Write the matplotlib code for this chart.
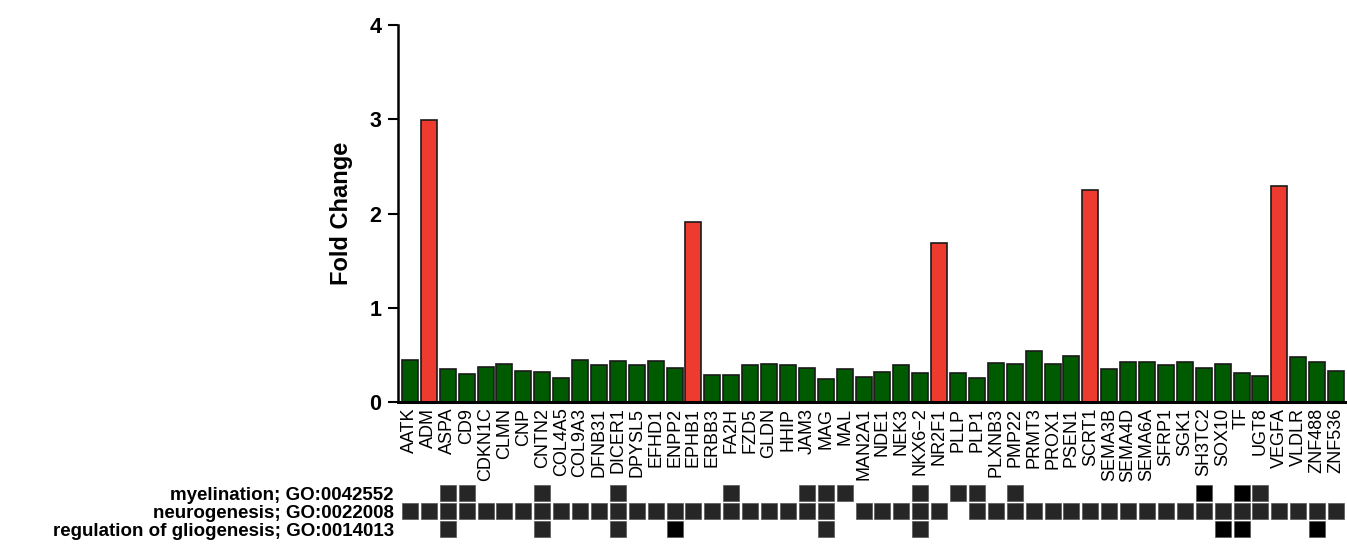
import numpy as np
import matplotlib
matplotlib.use("Agg")
import matplotlib.pyplot as plt

plt.rcParams["font.family"] = ["Liberation Sans", "DejaVu Sans"]

genes = ["AATK", "ADM", "ASPA", "CD9", "CDKN1C", "CLMN", "CNP", "CNTN2", "COL4A5",
         "COL9A3", "DFNB31", "DICER1", "DPYSL5", "EFHD1", "ENPP2", "EPHB1", "ERBB3",
         "FA2H", "FZD5", "GLDN", "HHIP", "JAM3", "MAG", "MAL", "MAN2A1", "NDE1", "NEK3",
         "NKX6\u22122", "NR2F1", "PLLP", "PLP1", "PLXNB3", "PMP22", "PRMT3", "PROX1",
         "PSEN1", "SCRT1", "SEMA3B", "SEMA4D", "SEMA6A", "SFRP1", "SGK1", "SH3TC2",
         "SOX10", "TF", "UGT8", "VEGFA", "VLDLR", "ZNF488", "ZNF536"]

fold_change = [0.45, 2.99, 0.35, 0.30, 0.37, 0.40, 0.33, 0.32, 0.25, 0.45,
               0.39, 0.43, 0.39, 0.43, 0.36, 1.91, 0.29, 0.29, 0.39, 0.40,
               0.39, 0.36, 0.24, 0.35, 0.27, 0.32, 0.39, 0.31, 1.69, 0.31,
               0.25, 0.41, 0.40, 0.54, 0.40, 0.49, 2.25, 0.35, 0.42, 0.42,
               0.39, 0.42, 0.36, 0.40, 0.31, 0.28, 2.29, 0.48, 0.42, 0.33]

highlight = ["ADM", "EPHB1", "NR2F1", "SCRT1", "VEGFA"]

go_terms = ["myelination; GO:0042552",
            "neurogenesis; GO:0022008",
            "regulation of gliogenesis; GO:0014013"]

myelination = ["ASPA", "CD9", "CNTN2", "DICER1", "FA2H", "JAM3", "MAG", "MAL",
               "NKX6\u22122", "PLLP", "PLP1", "PMP22", "SH3TC2", "TF", "UGT8"]
not_neurogenesis = ["MAL", "PLLP"]
gliogenesis = ["ASPA", "CNTN2", "DICER1", "ENPP2", "MAG", "NKX6\u22122", "SOX10", "TF", "ZNF488"]
# cells that are drawn in pure black in the original
black_cells = [("myelination; GO:0042552", "SH3TC2"), ("myelination; GO:0042552", "TF"),
               ("regulation of gliogenesis; GO:0014013", "ENPP2"),
               ("regulation of gliogenesis; GO:0014013", "SOX10"),
               ("regulation of gliogenesis; GO:0014013", "TF"),
               ("regulation of gliogenesis; GO:0014013", "ZNF488")]

members = {
    go_terms[0]: myelination,
    go_terms[1]: [g for g in genes if g not in not_neurogenesis],
    go_terms[2]: gliogenesis,
}

x = np.arange(len(genes))
colors = ["#ee3b2f" if g in highlight else "#005a00" for g in genes]

fig = plt.figure(figsize=(13.47, 5.44), dpi=100)
ax = fig.add_axes([0.2955, 0.261, 0.7045, 0.693])
ax.bar(x, fold_change, width=0.85, color=colors, edgecolor="#1a1a1a", linewidth=1.2)
ax.set_xlim(-0.63, len(genes) - 0.42)
ax.set_ylim(0, 4)
ax.set_yticks([0, 1, 2, 3, 4])
ax.set_yticklabels(["0", "1", "2", "3", "4"], fontsize=15.5, fontweight="bold")
ax.set_ylabel("Fold Change", fontsize=17, fontweight="bold", labelpad=12)
ax.set_xticks(x)
ax.set_xticklabels(genes, rotation=90, fontsize=13)
ax.tick_params(axis="x", length=0, pad=4)
ax.tick_params(axis="y", length=7, width=1.5, direction="out", pad=5)
for s in ["top", "right"]:
    ax.spines[s].set_visible(False)
ax.spines["left"].set_linewidth(1.8)
ax.spines["bottom"].set_linewidth(2.2)

ax2 = fig.add_axes([0.2955, 0.011, 0.7045, 0.099])
for i, term in enumerate(go_terms):
    for j, g in enumerate(genes):
        if g in members[term]:
            c = "#000000" if (term, g) in black_cells else "#262626"
            ax2.bar(j, 0.88, bottom=i - 0.44, width=0.85, color=c,
                    edgecolor="#555555", linewidth=0.5)
ax2.set_xlim(-0.63, len(genes) - 0.42)
ax2.set_ylim(2.5, -0.5)
ax2.set_yticks(range(len(go_terms)))
ax2.set_yticklabels(go_terms, fontsize=13.5, fontweight="bold")
ax2.tick_params(axis="y", length=0, pad=3)
ax2.set_xticks([])
for s in ax2.spines.values():
    s.set_visible(False)

fig.savefig("out.png", dpi=100)
